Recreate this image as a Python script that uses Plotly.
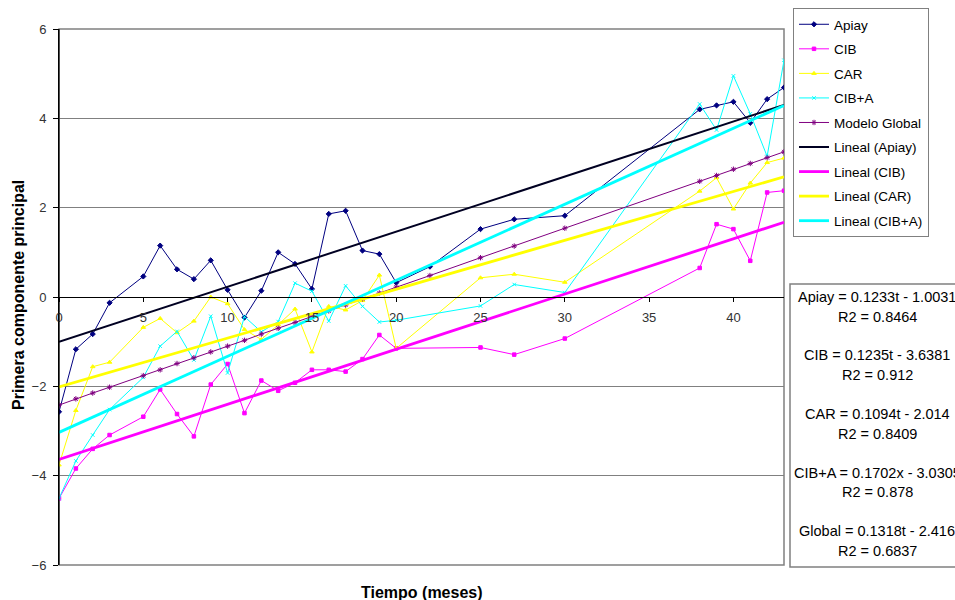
import plotly.graph_objects as go

# ---------------- data ----------------
t = [0, 1, 2, 3, 5, 6, 7, 8, 9, 10, 11, 12, 13, 14, 15, 16, 17, 18, 19, 20,
     22, 25, 27, 30, 38, 39, 40, 41, 42, 43]

apiay = [-2.57, -1.17, -0.83, -0.13, 0.46, 1.15, 0.62, 0.40, 0.82, 0.16,
         -0.46, 0.14, 1.00, 0.74, 0.18, 1.86, 1.93, 1.04, 0.96, 0.32,
         0.68, 1.52, 1.74, 1.82, 4.20, 4.29, 4.37, 3.90, 4.43, 4.69]

cib = [-4.51, -3.84, -3.40, -3.09, -2.68, -2.07, -2.62, -3.12, -1.96, -1.50,
       -2.60, -1.87, -2.10, -1.92, -1.63, -1.63, -1.67, -1.39, -0.85, -1.15,
       None, -1.13, -1.29, -0.93, 0.65, 1.63, 1.52, 0.81, 2.34, 2.38]

car = [-3.76, -2.54, -1.56, -1.46, -0.68, -0.48, -0.80, -0.54, 0.00, -0.15,
       -0.73, -0.95, -0.62, -0.27, -1.23, -0.21, -0.29, -0.08, 0.49, -1.15,
       None, 0.43, 0.51, 0.33, 2.37, 2.67, 1.97, 2.55, 3.01, 3.11]

ciba = [-4.51, -3.67, -3.09, -2.52, -1.80, -1.10, -0.77, -1.41, -0.43, -1.70,
        -0.44, -0.78, -0.55, 0.31, 0.13, -0.54, 0.25, -0.21, -0.56, -0.52,
        None, -0.20, 0.28, 0.10, 4.32, 3.74, 4.95, 4.10, 3.15, 5.30]

glob = [-2.42, -2.28, -2.15, -2.02, -1.76, -1.63, -1.49, -1.36, -1.23, -1.10,
        -0.97, -0.83, -0.70, -0.57, -0.44, -0.31, -0.18, -0.04, 0.09, 0.22,
        0.48, 0.88, 1.14, 1.54, 2.59, 2.72, 2.86, 2.99, 3.12, 3.25]

# trend line coefficients (slope, intercept) as printed in the chart
trend_names = ["Lineal (Apiay)", "Lineal (CIB)", "Lineal (CAR)", "Lineal (CIB+A)"]
trend_slopes = [0.1233, 0.1235, 0.1094, 0.1702]
trend_inter = [-1.0031, -3.6381, -2.014, -3.0305]
trend_t = [0, 43]

eq_lines = ["Apiay = 0.1233t - 1.0031", "R2 = 0.8464", "",
            "CIB = 0.1235t - 3.6381", "R2 = 0.912", "",
            "CAR = 0.1094t - 2.014", "R2 = 0.8409", "",
            "CIB+A = 0.1702x - 3.0305", "R2 = 0.878", "",
            "Global = 0.1318t - 2.416", "R2 = 0.6837"]

y_ticks = [-6, -4, -2, 0, 2, 4, 6]
x_ticks = [0, 5, 10, 15, 20, 25, 30, 35, 40]

FONT = "Liberation Sans, Arial, sans-serif"

fig = go.Figure()

series = [
    ("Apiay", apiay, "#000080", "diamond", 4),
    ("CIB", cib, "#FF00FF", "square", 3.5),
    ("CAR", car, "#FFFF00", "triangle-up", 4),
    ("CIB+A", ciba, "#00FFFF", "x-thin-open", 3.5),
    ("Modelo Global", glob, "#800080", "asterisk-open", 4.5),
]
for i, (name, ys, col, sym, sz) in enumerate(series):
    fig.add_trace(go.Scatter(
        x=t, y=ys, name=name, mode="lines+markers", connectgaps=True,
        line=dict(color=col, width=1),
        marker=dict(symbol=sym, size=sz, color=col, line=dict(color=col, width=1)),
        legendgroup="g%d" % i,
    ))

trend_cols = ["#000022", "#FF00FF", "#FFFF00", "#00FFFF"]
trend_w = [2, 2.8, 2.8, 2.8]
for j, name in enumerate(trend_names):
    ys = [trend_slopes[j] * tt + trend_inter[j] for tt in trend_t]
    fig.add_trace(go.Scatter(
        x=trend_t, y=ys, name=name, mode="lines",
        line=dict(color=trend_cols[j], width=trend_w[j]),
        legendgroup="h%d" % j,
    ))

# plot area geometry (pixels)
L, R, T, B = 59, 784, 29, 565
W, H = 955, 600
def px(X):
    return (X - L) / (R - L)
def py(Y):
    return (B - Y) / (B - T)

fig.update_layout(
    width=W, height=H,
    margin=dict(l=L, r=W - R, t=T, b=H - B, autoexpand=False),
    plot_bgcolor="white", paper_bgcolor="white",
    font=dict(family=FONT, size=13, color="#222"),
    showlegend=True,
    legend=dict(x=px(793), y=py(8), xanchor="left", yanchor="top",
                bgcolor="white", bordercolor="#808080", borderwidth=1,
                font=dict(family=FONT, size=13.5, color="#000"),
                tracegroupgap=4),
    xaxis=dict(range=[0, 43], tickvals=x_ticks, anchor="free", position=0.5,
               showline=True, linecolor="black", linewidth=1,
               ticks="outside", ticklen=4, tickcolor="black",
               showgrid=False, zeroline=False, ticklabelstandoff=4,
               tickfont=dict(family=FONT, size=13, color="#333")),
    yaxis=dict(range=[-6, 6], tickvals=y_ticks,
               showline=True, linecolor="black", linewidth=1,
               ticks="outside", ticklen=5, tickcolor="black",
               showgrid=True, gridcolor="#808080", gridwidth=1,
               zeroline=False, ticklabelstandoff=4,
               tickfont=dict(family=FONT, size=13, color="#333")),
)

# plot-area border (gray)
fig.add_shape(type="rect", xref="paper", yref="paper", x0=0, x1=1, y0=0, y1=1,
              line=dict(color="#808080", width=1.5), layer="below")
# y axis line on top of border
fig.add_shape(type="line", xref="paper", yref="paper", x0=0, x1=0, y0=0, y1=1,
              line=dict(color="black", width=1))

# equation box
fig.add_shape(type="rect", xref="paper", yref="paper",
              x0=px(790), x1=px(965), y0=py(567), y1=py(284),
              line=dict(color="#808080", width=1.5), fillcolor="white")
y0_line, dy = 297, 19.5
for k, txt in enumerate(eq_lines):
    if not txt:
        continue
    fig.add_annotation(text=txt, xref="paper", yref="paper",
                       x=px(877), y=py(y0_line + k * dy),
                       xanchor="center", yanchor="middle", showarrow=False,
                       font=dict(family=FONT, size=14.5, color="#000"))

# axis titles
fig.add_annotation(text="<b>Tiempo (meses)</b>", xref="paper", yref="paper",
                   x=px(422), y=py(592), xanchor="center", yanchor="middle",
                   showarrow=False, font=dict(family=FONT, size=16, color="#000"))
fig.add_annotation(text="<b>Primera componente principal</b>", xref="paper", yref="paper",
                   x=px(18), y=py(295), xanchor="center", yanchor="middle",
                   textangle=-90, showarrow=False,
                   font=dict(family=FONT, size=16, color="#000"))

fig.write_html("out.html")
